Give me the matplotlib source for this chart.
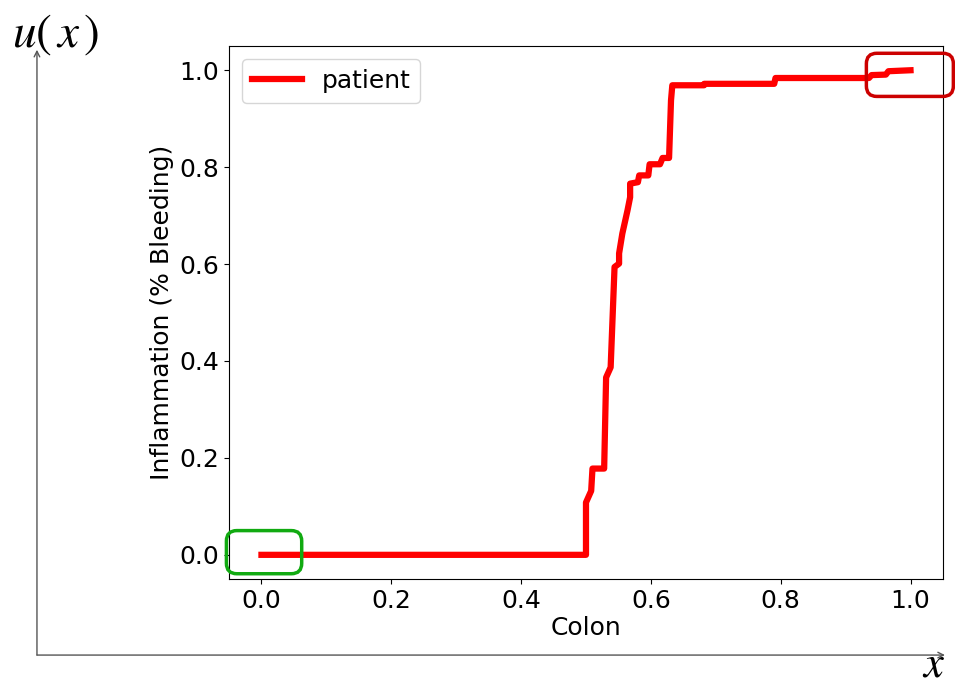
import matplotlib
matplotlib.use('Agg')
import matplotlib.pyplot as plt
from matplotlib.patches import FancyBboxPatch

# step curve
colon = [0.0, 0.500, 0.500, 0.508, 0.510, 0.528, 0.531, 0.538, 0.544, 0.551,
         0.551, 0.556, 0.564, 0.568, 0.568, 0.580, 0.582, 0.596, 0.598, 0.614,
         0.618, 0.628, 0.631, 0.633, 0.682, 0.682, 0.790, 0.792, 0.936, 0.940,
         0.962, 0.966, 1.0]
bleeding = [0.0, 0.0, 0.108, 0.132, 0.178, 0.178, 0.366, 0.387, 0.594, 0.601,
            0.622, 0.663, 0.711, 0.738, 0.766, 0.769, 0.783, 0.783, 0.806, 0.806,
            0.819, 0.819, 0.938, 0.969, 0.969, 0.972, 0.972, 0.984, 0.984, 0.990,
            0.991, 0.998, 1.0]

fig = plt.figure(figsize=(9.55, 6.91), dpi=100)

# outer sketch axes with arrows
arrow = dict(arrowstyle='->', color='#555555', lw=1.0, shrinkA=0, shrinkB=0)
fig.add_artist(plt.Annotation('', xy=(0.0387, 0.928), xytext=(0.0387, 0.052),
                              xycoords='figure fraction', textcoords='figure fraction',
                              arrowprops=arrow))
fig.add_artist(plt.Annotation('', xy=(0.9895, 0.052), xytext=(0.0387, 0.052),
                              xycoords='figure fraction', textcoords='figure fraction',
                              arrowprops=arrow))
plt.rcParams['mathtext.fontset'] = 'stix'
fig.text(0.058, 0.95, r'$u(\,x\,)$', fontsize=34, ha='center', va='center')
fig.text(0.978, 0.008, r'$x$', fontsize=32, ha='center', va='bottom')

ax = fig.add_axes([0.2398, 0.162, 0.7476, 0.7714])
ax.plot(colon, bleeding, color='red', lw=4.5, label='patient')
ax.set_xlabel('Colon', fontsize=18, labelpad=2)
ax.set_ylabel('Inflammation (% Bleeding)', fontsize=18)
ax.tick_params(labelsize=18)
ax.set_xticks([0.0, 0.2, 0.4, 0.6, 0.8, 1.0])
ax.set_yticks([0.0, 0.2, 0.4, 0.6, 0.8, 1.0])
ax.legend(loc='upper left', fontsize=18)

asp = 650 / 484
ax.add_patch(FancyBboxPatch((-0.054, -0.039), 0.116, 0.089,
                            boxstyle='round,pad=0,rounding_size=0.016',
                            mutation_aspect=asp, fill=False, ec='#11aa11', lw=2.5,
                            clip_on=False, zorder=5))
ax.add_patch(FancyBboxPatch((0.932, 0.946), 0.134, 0.089,
                            boxstyle='round,pad=0,rounding_size=0.016',
                            mutation_aspect=asp, fill=False, ec='#cc0000', lw=2.5,
                            clip_on=False, zorder=5))

plt.savefig('out.png', dpi=100)
